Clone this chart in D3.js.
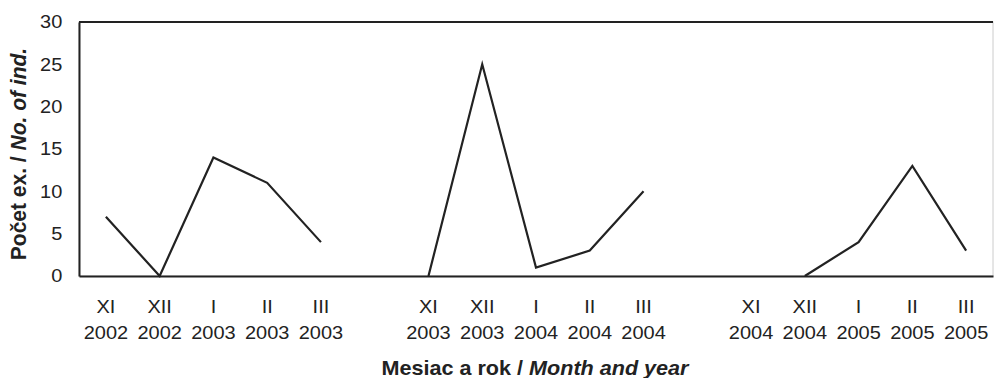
<!DOCTYPE html>
<html>
<head>
<meta charset="utf-8">
<script src="https://cdn.jsdelivr.net/npm/d3@7"></script>
<style>
  body { margin: 0; background: #fff; }
  svg text { font-family: "Liberation Sans", Arial, sans-serif; fill: #222; }
</style>
</head>
<body>
<div class="chart"></div>
<script>
const months = ['XI', 'XII', 'I', 'II', 'III', '', 'XI', 'XII', 'I', 'II', 'III', '', 'XI', 'XII', 'I', 'II', 'III'];
const years = ['2002', '2002', '2003', '2003', '2003', '', '2003', '2003', '2004', '2004', '2004', '', '2004', '2004', '2005', '2005', '2005'];
const counts = [7, 0, 14, 11, 4, null, 0, 25, 1, 3, 10, null, null, 0, 4, 13, 3];
const yTicks = [0, 5, 10, 15, 20, 25, 30];

const width = 994;
const height = 378;
const margin = { top: 22, right: 1, bottom: 102, left: 79 };
const sx = 1.08; // text in the original is a bit wider than Arial

const svg = d3.select('.chart')
.append('svg')
.attr('width', width)
.attr('height', height);

const idx = d3.range(counts.length);

const xScale = d3.scaleBand()
.domain(idx)
.range([margin.left, width - margin.right]);

const yScale = d3.scaleLinear()
.domain([0, 30])
.range([height - margin.bottom, margin.top]);

// frame
svg.append('rect')
.attr('x', margin.left)
.attr('y', margin.top)
.attr('width', width - margin.right - margin.left)
.attr('height', height - margin.bottom - margin.top)
.attr('fill', 'none')
.attr('stroke', '#ccc')
.attr('stroke-width', 1);

const yAxis = svg.append('g')
.attr('transform', `translate(${margin.left},0)`)
.call(d3.axisLeft(yScale).tickValues(yTicks).tickSize(0).tickPadding(15.5));
yAxis.select('.domain').attr('stroke', '#222').attr('stroke-width', 2);
yAxis.selectAll('text').attr('font-size', 18.5).attr('fill', '#222')
.attr('font-family', '"Liberation Sans", Arial, sans-serif')
.attr('transform', `scale(${sx},1)`);

// top border
svg.append('line')
.attr('x1', margin.left).attr('x2', width - margin.right)
.attr('y1', margin.top).attr('y2', margin.top)
.attr('stroke', '#222').attr('stroke-width', 2);

const xAxis = svg.append('g')
.attr('transform', `translate(0,${height - margin.bottom})`)
.call(d3.axisBottom(xScale).tickSize(0).tickFormat(''));
xAxis.select('.domain').attr('stroke', '#222').attr('stroke-width', 2);

const labels = svg.append('g');
idx.forEach(i => {
    const cx = xScale(i) + xScale.bandwidth() / 2;
    const t = labels.append('text')
    .attr('transform', `translate(${cx},0) scale(${sx},1)`)
    .attr('text-anchor', 'middle')
    .attr('font-size', 18.5);
    t.append('tspan').attr('x', 0).attr('y', 313).text(months[i]);
    t.append('tspan').attr('x', 0).attr('y', 339).text(years[i]);
});

const line = d3.line()
.defined(d => d != null)
.x((d, i) => xScale(i) + xScale.bandwidth() / 2)
.y(d => yScale(d));

svg.append('path')
.datum(counts)
.attr('d', line)
.attr('fill', 'none')
.attr('stroke', '#222')
.attr('stroke-width', 2.2)
.attr('stroke-linejoin', 'miter');

// axis titles
const xt = svg.append('text')
.attr('transform', `translate(535,375) scale(${sx},1)`)
.attr('text-anchor', 'middle')
.attr('font-size', 20)
.attr('font-weight', 'bold');
xt.append('tspan').text('Mesiac a rok / ');
xt.append('tspan').attr('font-style', 'italic').text('Month and year');

const yt = svg.append('text')
.attr('transform', `translate(26,154) scale(${sx},1) rotate(-90)`)
.attr('text-anchor', 'middle')
.attr('font-size', 21)
.attr('font-weight', 'bold');
yt.append('tspan').text('Počet ex. / ');
yt.append('tspan').attr('font-style', 'italic').text('No. of ind.');
</script>
</body>
</html>
